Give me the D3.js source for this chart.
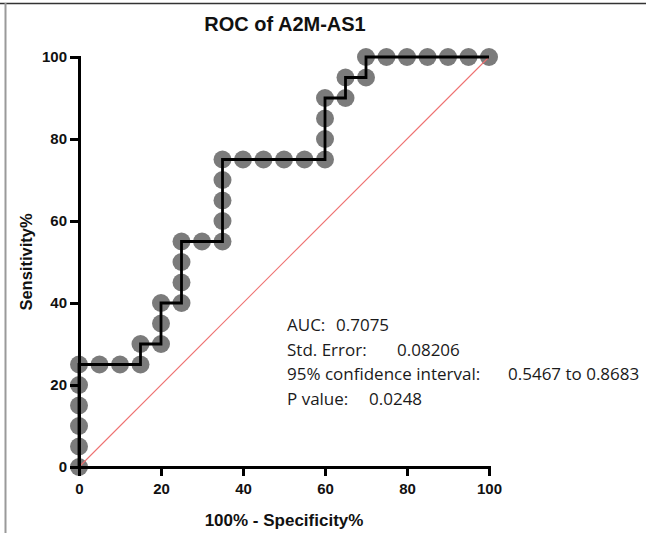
<!DOCTYPE html>
<html>
<head>
<meta charset="utf-8">
<script src="https://cdn.jsdelivr.net/npm/d3@7"></script>
<style>
  html, body { margin: 0; padding: 0; background: #fff; }
  svg { display: block; }
</style>
</head>
<body>
<svg id="chart" width="646" height="533"></svg>
<script>
// ROC curve coordinates (100% - Specificity%, Sensitivity%)
const fpr = [0, 0, 0, 0, 0, 0, 5, 10, 15, 15, 20, 20, 20, 25, 25, 25, 25, 30, 35, 35, 35, 35, 35,
             40, 45, 50, 55, 60, 60, 60, 60, 65, 65, 70, 70, 75, 80, 85, 90, 95, 100];
const tpr = [0, 5, 10, 15, 20, 25, 25, 25, 25, 30, 30, 35, 40, 40, 45, 50, 55, 55, 55, 60, 65, 70, 75,
             75, 75, 75, 75, 75, 80, 85, 90, 90, 95, 95, 100, 100, 100, 100, 100, 100, 100];
const xTicks = [0, 20, 40, 60, 80, 100];
const yTicks = [0, 20, 40, 60, 80, 100];
const statLabels = ["AUC:", "Std. Error:", "95% confidence interval:", "P value:"];
const statValues = ["0.7075", "0.08206", "0.5467 to 0.8683", "0.0248"];

const svg = d3.select("#chart");
const margin = { left: 79, right: 157, top: 57, bottom: 66 };
const W = 646, H = 533;
const boldFont = "Liberation Sans, Arial, sans-serif";

const x = d3.scaleLinear().domain([0, 100]).range([margin.left, W - margin.right]);
const y = d3.scaleLinear().domain([0, 100]).range([H - margin.bottom, margin.top]);

// frame edges
svg.append("line").attr("x1", 0).attr("x2", W).attr("y1", 3.5).attr("y2", 3.5)
  .attr("stroke", "#333").attr("stroke-width", 1.6);
svg.append("line").attr("x1", 5.5).attr("x2", 5.5).attr("y1", 3).attr("y2", H)
  .attr("stroke", "#9a9a9a").attr("stroke-width", 2);

const pts = fpr.map((v, i) => [v, tpr[i]]);

// points
svg.append("g").selectAll("circle").data(pts).join("circle")
  .attr("cx", d => x(d[0])).attr("cy", d => y(d[1])).attr("r", 9)
  .attr("fill", "#7b7b7b");

// reference diagonal
svg.append("line")
  .attr("x1", x(0)).attr("y1", y(0)).attr("x2", x(100)).attr("y2", y(100))
  .attr("stroke", "#ee7272").attr("stroke-width", 1.1);

// step curve
svg.append("path")
  .datum(pts)
  .attr("d", d3.line().x(d => x(d[0])).y(d => y(d[1])))
  .attr("fill", "none").attr("stroke", "#000").attr("stroke-width", 2.8)
  .attr("stroke-linejoin", "miter");

// axes
function styleAxis(g) {
  g.selectAll("path, line").attr("stroke", "#000").attr("stroke-width", 3);
  g.select(".domain").attr("stroke-linecap", "square");
  g.selectAll("text")
    .attr("font-family", boldFont).attr("font-weight", "bold")
    .attr("font-size", 15).attr("fill", "#111");
}
svg.append("g")
  .attr("transform", `translate(0,${y(0)})`)
  .call(d3.axisBottom(x).tickValues(xTicks).tickSize(9).tickSizeOuter(0).tickPadding(7))
  .call(styleAxis);
svg.append("g")
  .attr("transform", `translate(${x(0)},0)`)
  .call(d3.axisLeft(y).tickValues(yTicks).tickSize(9).tickSizeOuter(0).tickPadding(3))
  .call(styleAxis);

// titles
svg.append("text").attr("x", 285).attr("y", 31).attr("text-anchor", "middle")
  .attr("font-family", boldFont).attr("font-weight", "bold")
  .attr("font-size", 20).attr("fill", "#111").text("ROC of A2M-AS1");
svg.append("text").attr("x", (x(0) + x(100)) / 2).attr("y", 526).attr("text-anchor", "middle")
  .attr("font-family", boldFont).attr("font-weight", "bold")
  .attr("font-size", 17).attr("fill", "#111").text("100% - Specificity%");
svg.append("text").attr("transform", `translate(32,${(y(0) + y(100)) / 2}) rotate(-90)`)
  .attr("text-anchor", "middle")
  .attr("font-family", boldFont).attr("font-weight", "bold")
  .attr("font-size", 16.5).attr("fill", "#111").text("Sensitivity%");

// statistics block: label column and tab-aligned value column
const valueX = [336, 397, 508, 369];
const stats = svg.append("g").attr("font-family", "Open Sans, sans-serif")
  .attr("font-size", 17).attr("fill", "#1a1a1a");
statLabels.forEach((lab, i) => {
  const by = 331 + i * 24.5;
  stats.append("text").attr("x", 287).attr("y", by).text(lab);
  stats.append("text").attr("x", valueX[i]).attr("y", by).text(statValues[i]);
});
</script>
</body>
</html>
